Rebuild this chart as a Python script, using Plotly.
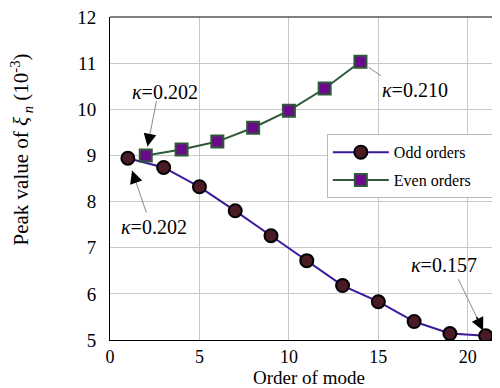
import plotly.graph_objects as go

odd_x = [1, 3, 5, 7, 9, 11, 13, 15, 17, 19, 21]
odd_y = [8.94, 8.74, 8.32, 7.80, 7.26, 6.72, 6.18, 5.83, 5.40, 5.14, 5.09]
even_x = [2, 4, 6, 8, 10, 12, 14]
even_y = [9.00, 9.13, 9.30, 9.60, 9.97, 10.45, 11.03]

ann_text = ["0.202", "0.202", "0.210", "0.157"]
ann_pt = [(2, 9.00), (1, 8.94), (14, 11.03), (21, 5.09)]

FONT = "Liberation Serif, Tinos, Times New Roman, Times, DejaVu Serif, serif"
PAD = "\u00a0" * 5

fig = go.Figure()
fig.add_trace(go.Scatter(
    x=odd_x, y=odd_y, mode="lines+markers", name="Odd orders" + PAD, legendgroup="a",
    line=dict(color="#3a1a9a", width=2),
    marker=dict(symbol="circle", size=13, color="#4a1a25", line=dict(color="#000000", width=2)),
))
fig.add_trace(go.Scatter(
    x=even_x, y=even_y, mode="lines+markers", name="Even orders" + PAD, legendgroup="b",
    line=dict(color="#2e5a3a", width=2),
    marker=dict(symbol="square", size=12, color="#6a0a8a", line=dict(color="#2e5a3a", width=2)),
))

tails = [(11, -56), (19, 56), (22, 15), (-28, -58)]
stand = [9, 13, 10, 6]
text_off = [(19, -63), (26, 69), (55, 28), (-42, -71)]

for (px, py), t, (tx, ty), s, (ox, oy) in zip(ann_pt, ann_text, tails, stand, text_off):
    fig.add_annotation(x=px, y=py, ax=tx, ay=ty, text="", showarrow=True,
                       arrowhead=0, arrowwidth=1, arrowcolor="#8a8a8a", standoff=s)
    fig.add_annotation(x=px, y=py, ax=tx * 0.35, ay=ty * 0.35, text="", showarrow=True,
                       arrowhead=2, arrowsize=1.7, arrowwidth=1.5, arrowcolor="#000000", standoff=s)
    fig.add_annotation(x=px, y=py, xshift=ox, yshift=-oy, text="<i>κ</i>=" + t, showarrow=False,
                       font=dict(family=FONT, size=20, color="#000000"))

fig.add_annotation(xref="paper", yref="paper", x=0.51, y=-0.1146, xanchor="center", yanchor="middle",
                   text="Order of mode", showarrow=False,
                   font=dict(family=FONT, size=19, color="#000000"))
fig.add_annotation(xref="paper", yref="paper", x=-0.228, y=0.59, xanchor="center", yanchor="middle",
                   textangle=-90,
                   text="Peak value of <i>ξ</i><sub> <i>n</i></sub> (10<sup>-3</sup>)", showarrow=False,
                   font=dict(family=FONT, size=21, color="#000000"))

fig.update_layout(
    width=492, height=380,
    margin=dict(l=102, r=0, t=9, b=48),
    paper_bgcolor="white", plot_bgcolor="white",
    font=dict(family=FONT, size=18, color="#000000"),
    showlegend=True,
    legend=dict(x=0.556, y=0.637, xanchor="left", yanchor="top",
                bgcolor="white", bordercolor="#bbbbbb", borderwidth=1,
                tracegroupgap=4, itemwidth=56,
                font=dict(family=FONT, size=16, color="#000000")),
)
fig.update_xaxes(range=[0, 21.8], tickvals=[0, 5, 10, 15, 20], showgrid=True,
                 gridcolor="#c8c8c8", gridwidth=1, showline=True, linecolor="#000000",
                 linewidth=1, ticks="", zeroline=False, ticklabelstandoff=0,
                 ticklabeloverflow="allow", tickfont=dict(size=18))
fig.update_yaxes(range=[5, 12], dtick=1, showgrid=True, gridcolor="#c8c8c8", gridwidth=1,
                 showline=True, linecolor="#000000", linewidth=1, ticks="", zeroline=False,
                 ticklabelstandoff=9, ticklabeloverflow="allow", tickfont=dict(size=19))
fig.add_shape(type="line", xref="paper", yref="paper", x0=0, x1=1, y0=1, y1=1,
              line=dict(color="#000000", width=1))

fig.write_html("out.html")
